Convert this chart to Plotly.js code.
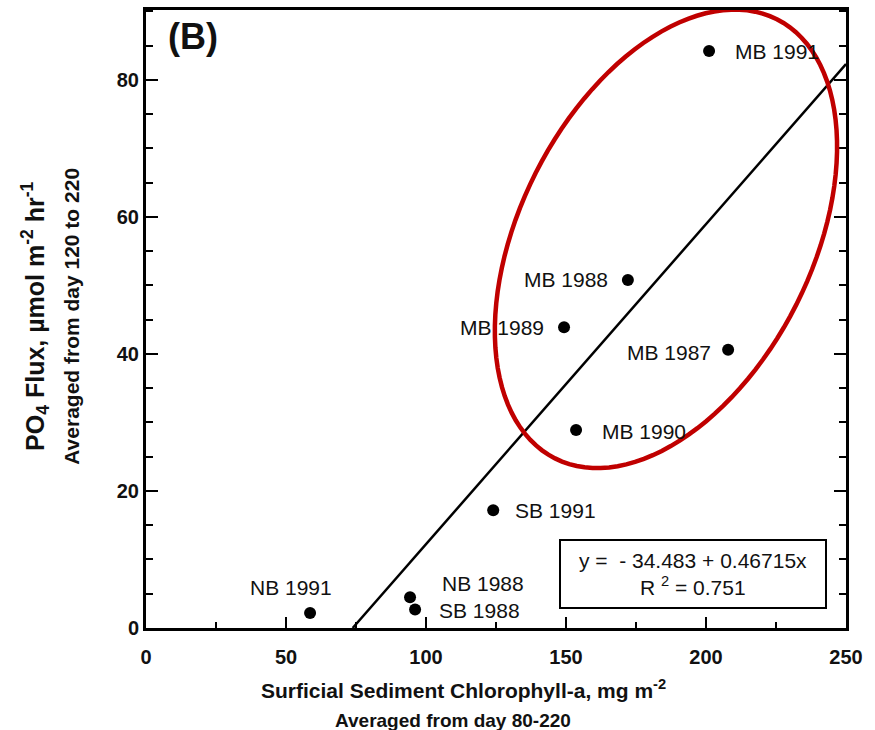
<!DOCTYPE html>
<html>
<head>
<meta charset="utf-8">
<script src="https://cdn.plot.ly/plotly-3.0.1.min.js"></script>
<style>
  html, body { margin: 0; padding: 0; background: #ffffff; }
  #chart { width: 875px; height: 730px; }
</style>
</head>
<body>
<div id="chart"></div>
<script>
// Site-years: sediment chlorophyll-a (mg m-2) vs PO4 flux (umol m-2 hr-1)
const sites = ['NB 1991', 'NB 1988', 'SB 1988', 'SB 1991', 'MB 1990', 'MB 1989', 'MB 1988', 'MB 1987', 'MB 1991'];
const chlorophyll = [58.6, 94.3, 96.1, 124.0, 153.6, 149.3, 172.1, 207.9, 201.1];
const po4Flux = [2.2, 4.5, 2.7, 17.2, 28.9, 43.9, 50.8, 40.6, 84.2];

// Least-squares fit reported on the chart
const intercept = -34.483;
const slope = 0.46715;
const rSquared = 0.751;

const xTicks = [0, 50, 100, 150, 200, 250];
const yTicks = [0, 20, 40, 60, 80];

// Label placement around each point: [anchor, xshift px, yshift px]
const labelPlacement = [
  ['center', -19, 25], ['left', 30, 14], ['left', 22, -1], ['left', 20, 0],
  ['left', 24, -2], ['right', -18, 0], ['right', -18, 0], ['right', -15, -3], ['left', 24, 0]
];

const W = 875, H = 730;
const M = { l: 146, r: 29, t: 10, b: 102 };
const xRange = [0, 250];
const yRange = [0, 90.2];
const plotW = W - M.l - M.r;
const plotH = H - M.t - M.b;

const FONT = 'Liberation Sans, Arial, Helvetica, sans-serif';

// Regression line from y = 0 crossing to the right edge of the axis
const xFitStart = -intercept / slope;
const xFit = [xFitStart, xRange[1]];
const yFit = xFit.map(x => intercept + slope * x);

const traces = [
  {
    x: xFit, y: yFit, mode: 'lines', type: 'scatter',
    line: { color: '#000000', width: 2.5 }, hoverinfo: 'skip', cliponaxis: false
  },
  {
    x: chlorophyll, y: po4Flux, mode: 'markers', type: 'scatter',
    marker: { color: '#000000', size: 12 }, text: sites, hoverinfo: 'text'
  }
];

const annotations = sites.map((name, i) => {
  const [anchor, dx, dy] = labelPlacement[i];
  return {
    x: chlorophyll[i], y: po4Flux[i], xref: 'x', yref: 'y',
    text: name, showarrow: false, xanchor: anchor, yanchor: 'middle',
    xshift: dx, yshift: dy,
    font: { family: FONT, size: 21, color: '#111111' }
  };
});

const fmt = v => (v < 0 ? '- ' + Math.abs(v) : String(v));
annotations.push(
  {
    xref: 'paper', yref: 'paper', x: (693 - M.l) / plotW, y: (M.t + plotH - 574) / plotH,
    xanchor: 'center', yanchor: 'middle', showarrow: false,
    text: 'y =  ' + fmt(intercept) + ' + ' + slope + 'x<br>R <sup>2</sup> = ' + rSquared,
    width: 264, height: 66, align: 'center', valign: 'middle',
    bordercolor: '#000000', borderwidth: 2, borderpad: 0, bgcolor: '#ffffff',
    font: { family: FONT, size: 21, color: '#111111' }
  },
  {
    xref: 'paper', yref: 'paper', x: 0.067, y: 0.957, xanchor: 'center', yanchor: 'middle',
    showarrow: false, text: '<b>(B)</b>',
    font: { family: FONT, size: 36, color: '#111111' }
  },
  {
    xref: 'paper', yref: 'paper', x: 0.453, y: -0.0988, xanchor: 'center', yanchor: 'middle',
    showarrow: false, text: '<b>Surficial Sediment Chlorophyll-a, mg m<sup>-2</sup></b>',
    font: { family: FONT, size: 21, color: '#111111' }
  },
  {
    xref: 'paper', yref: 'paper', x: 0.4386, y: -0.149, xanchor: 'center', yanchor: 'middle',
    showarrow: false, text: '<b>Averaged from day 80-220</b>',
    font: { family: FONT, size: 19, color: '#111111' }
  },
  {
    xref: 'paper', yref: 'paper', x: -0.1586, y: 0.505, xanchor: 'center', yanchor: 'middle',
    showarrow: false, textangle: -90,
    text: '<b>PO<sub>4</sub> Flux, \u00b5mol m<sup>-2</sup> hr<sup>-1</sup></b>',
    font: { family: FONT, size: 25, color: '#111111' }
  },
  {
    xref: 'paper', yref: 'paper', x: -0.1057, y: 0.5036, xanchor: 'center', yanchor: 'middle',
    showarrow: false, textangle: -90, text: '<b>Averaged from day 120 to 220</b>',
    font: { family: FONT, size: 21, color: '#111111' }
  }
);

// Highlight ellipse around the MB site-years (center in data units, axes in px)
const ell = { cx: 185.7, cy: 56.8, a: 246, b: 146, angleDeg: 63.2 };
function ellipsePath(e) {
  const pxX = plotW / (xRange[1] - xRange[0]);
  const pxY = plotH / (yRange[1] - yRange[0]);
  const phi = e.angleDeg * Math.PI / 180;
  const pts = [];
  for (let k = 0; k <= 120; k++) {
    const t = 2 * Math.PI * k / 120;
    const dx = e.a * Math.cos(t) * Math.cos(phi) - e.b * Math.sin(t) * Math.sin(phi);
    const dy = e.a * Math.cos(t) * Math.sin(phi) + e.b * Math.sin(t) * Math.cos(phi);
    pts.push([e.cx + dx / pxX, e.cy + dy / pxY]);
  }
  return 'M ' + pts.map(p => p[0].toFixed(3) + ',' + p[1].toFixed(3)).join(' L ') + ' Z';
}

const layout = {
  width: W, height: H,
  margin: M,
  paper_bgcolor: '#ffffff', plot_bgcolor: '#ffffff',
  showlegend: false,
  font: { family: FONT, color: '#111111' },
  xaxis: {
    range: xRange, tickvals: xTicks, ticktext: xTicks.map(String),
    showgrid: false, zeroline: false,
    showline: true, linecolor: '#000000', linewidth: 3, mirror: true,
    ticks: 'inside', ticklen: 11, tickwidth: 2, tickcolor: '#000000',
    minor: { dtick: 25, ticks: 'inside', ticklen: 6, tickwidth: 2, tickcolor: '#000000' },
    tickfont: { family: FONT, size: 20, color: '#111111', weight: 'bold' },
    ticklabelstandoff: 9
  },
  yaxis: {
    range: yRange, tickvals: yTicks, ticktext: yTicks.map(String),
    showgrid: false, zeroline: false,
    showline: true, linecolor: '#000000', linewidth: 3, mirror: 'ticks',
    ticks: 'inside', ticklen: 12, tickwidth: 2, tickcolor: '#000000',
    minor: { dtick: 5, ticks: 'inside', ticklen: 7, tickwidth: 2, tickcolor: '#000000' },
    tickfont: { family: FONT, size: 20, color: '#111111', weight: 'bold' },
    ticklabelstandoff: 0
  },
  shapes: [{
    type: 'path', xref: 'x', yref: 'y', path: ellipsePath(ell),
    line: { color: '#c00000', width: 4.5 }, layer: 'above'
  }],
  annotations: annotations
};

Plotly.newPlot('chart', traces, layout, { displayModeBar: false, staticPlot: true });
</script>
</body>
</html>
